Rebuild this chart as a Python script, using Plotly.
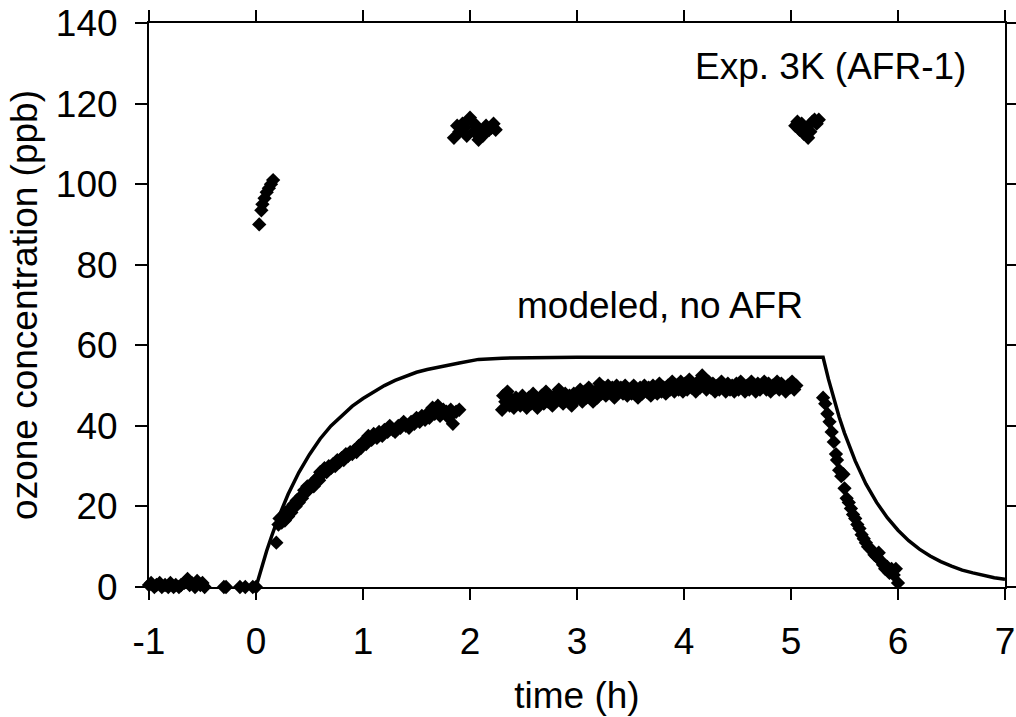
import plotly.graph_objects as go

# ---------------- data ----------------
# measured ozone (h, ppb)
t_base = [-1.0, -0.98, -0.95, -0.93, -0.9, -0.88, -0.85, -0.82, -0.8, -0.77, -0.75, -0.72,
          -0.7, -0.67, -0.64, -0.62, -0.6, -0.57, -0.55, -0.52, -0.5, -0.48,
          -0.3, -0.28, -0.15, -0.1, -0.03, 0.0]
v_base = [0.5, 1, 0, 0.5, 1, 0, 0.5, 0, 1, 0, 0.5, 0,
          0.5, 1, 2, 0.5, 1, 0, 1.5, 0.5, 1, 0,
          0, 0, 0, 0, 0, 0]

t_inlet1 = [0.03, 0.05, 0.06, 0.08, 0.1, 0.12, 0.14, 0.16]
v_inlet1 = [90, 93.5, 95, 96.5, 98, 99, 100, 101]

t_rise = [0.19, 0.21, 0.22, 0.24, 0.25, 0.27, 0.28, 0.3, 0.32, 0.33, 0.35, 0.37, 0.38, 0.4,
          0.42, 0.43, 0.45, 0.47, 0.48, 0.5, 0.52, 0.54, 0.55, 0.57, 0.59, 0.6, 0.62, 0.64,
          0.66, 0.68, 0.7, 0.72, 0.74, 0.76, 0.78, 0.8, 0.82, 0.84, 0.86, 0.88, 0.9, 0.92,
          0.94, 0.96, 0.98, 1.0, 1.03, 1.05, 1.08, 1.1, 1.13, 1.15, 1.18, 1.2, 1.23, 1.25,
          1.28, 1.3, 1.33, 1.35, 1.38, 1.4, 1.43, 1.45, 1.48, 1.5, 1.53, 1.55, 1.58, 1.6,
          1.62, 1.65, 1.67, 1.7, 1.72, 1.75, 1.78, 1.8, 1.82, 1.84, 1.87, 1.9]
v_rise = [11, 15.5, 17, 16, 17.5, 16.5, 18.5, 17.5, 19.5, 18.5, 20.5, 20, 21.5, 21,
          22.5, 22, 24, 23.5, 25, 24.5, 25.5, 25, 26.5, 27, 26.5, 28.5, 28, 29.5,
          28.5, 30, 29.5, 30.5, 30, 31.5, 31, 32, 31.5, 33, 32.5, 33.5, 33, 34,
          33.5, 35, 34.5, 36, 35.5, 37.5, 36.5, 38, 37, 38.5, 37.5, 39, 38.5, 40,
          39, 38.5, 40, 39.5, 41, 40, 39.5, 41, 40.5, 42, 41, 42.5, 41.5, 43,
          42, 44.5, 43, 45, 42.5, 44, 43.5, 42, 44, 40.5, 43.5, 44]

t_inlet2 = [1.85, 1.88, 1.9, 1.93, 1.95, 1.97, 2.0, 2.02, 2.04, 2.06, 2.08, 2.1, 2.12,
            2.15, 2.18, 2.2, 2.22, 2.24]
v_inlet2 = [111.5, 114.5, 113, 115, 114, 112, 116.5, 115.5, 113, 114.5, 111, 113, 112,
            114.5, 113.5, 114, 115, 113.5]

t_plateau = [2.3, 2.31, 2.33, 2.35, 2.37, 2.39, 2.41, 2.43, 2.45, 2.47, 2.49, 2.51, 2.53,
             2.55, 2.57, 2.59, 2.61, 2.63, 2.65, 2.67, 2.69, 2.71, 2.73, 2.75, 2.77, 2.79,
             2.81, 2.83, 2.85, 2.87, 2.89, 2.91, 2.93, 2.95, 2.97, 2.99, 3.01, 3.03, 3.05,
             3.07, 3.09, 3.11, 3.13, 3.15, 3.17, 3.19, 3.21, 3.23, 3.25, 3.27, 3.29, 3.31,
             3.33, 3.35, 3.37, 3.39, 3.41, 3.43, 3.45, 3.47, 3.49, 3.51, 3.53, 3.55, 3.57,
             3.59, 3.61, 3.63, 3.65, 3.67, 3.69, 3.71, 3.73, 3.75, 3.77, 3.79, 3.81, 3.83,
             3.85, 3.87, 3.89, 3.91, 3.93, 3.95, 3.97, 3.99, 4.01, 4.03, 4.05, 4.07, 4.09,
             4.11, 4.13, 4.15, 4.17, 4.19, 4.21, 4.23, 4.25, 4.27, 4.29, 4.31, 4.33, 4.35,
             4.37, 4.39, 4.41, 4.43, 4.45, 4.47, 4.49, 4.51, 4.53, 4.55, 4.57, 4.59, 4.61,
             4.63, 4.65, 4.67, 4.69, 4.71, 4.73, 4.75, 4.77, 4.79, 4.81, 4.83, 4.85, 4.87,
             4.89, 4.91, 4.93, 4.95, 4.97, 4.99, 5.01, 5.03, 5.05]
v_plateau = [44, 47.5, 46, 48.5, 45, 46.5, 44.5, 47, 46, 45, 47.5, 46, 44.5,
             47, 45.5, 48, 46.5, 44.5, 46, 47.5, 45.5, 48.5, 46, 47, 45, 47.5,
             46.5, 49, 47, 45.5, 48, 46.5, 47.5, 45, 48, 46.5, 47.5, 49, 46,
             48.5, 47, 49.5, 47.5, 46, 48.5, 47, 50.5, 48, 49.5, 47.5, 50, 48.5,
             49.5, 47, 50, 48.5, 49.5, 48, 50, 47.5, 49, 48, 50, 48.5, 47,
             49.5, 48, 50, 48.5, 49.5, 47.5, 50, 49, 48, 50.5, 48.5, 49.5, 48,
             50, 49, 51, 48.5, 50, 49, 51, 48.5, 50.5, 49, 51.5, 49.5, 50,
             48.5, 51, 49.5, 52.5, 50, 49, 51, 49.5, 50.5, 48.5, 50, 49, 51,
             49.5, 48.5, 50.5, 49, 50, 48.5, 50.5, 49, 51, 49.5, 48.5, 50, 49,
             51, 49.5, 48.5, 50.5, 49, 50, 51, 49, 50.5, 48.5, 50, 49.5, 51,
             49, 50.5, 49.5, 48.5, 50, 49.5, 51, 49, 50]

t_inlet3 = [5.04, 5.06, 5.08, 5.1, 5.12, 5.14, 5.16, 5.18, 5.2, 5.22, 5.24, 5.26]
v_inlet3 = [114.5, 115.5, 113.5, 115, 112.5, 114, 111.5, 113, 115.5, 116, 115, 116]

t_decay = [5.3, 5.32, 5.34, 5.36, 5.38, 5.4, 5.42, 5.43, 5.45, 5.47, 5.49, 5.5, 5.52,
           5.54, 5.56, 5.58, 5.6, 5.62, 5.64, 5.66, 5.68, 5.7, 5.72, 5.74, 5.76, 5.78,
           5.8, 5.82, 5.84, 5.86, 5.88, 5.9, 5.92, 5.94, 5.96, 5.98, 6.0]
v_decay = [47, 45.5, 43, 41, 38.5, 36, 33, 31.5, 29, 27.5, 28, 24.5, 22,
           21, 19.5, 18, 17, 15.5, 14.5, 13, 12, 11, 10, 9.5, 9, 8,
           7.5, 8.5, 6.5, 5.5, 4.5, 5, 3.5, 4.5, 3, 4.5, 1]

# modeled curve, no AFR (h, ppb)
t_model = [0.0, 0.05, 0.1, 0.15, 0.2, 0.3, 0.4, 0.5, 0.6, 0.7, 0.8, 0.9, 1.0, 1.1, 1.2,
           1.3, 1.4, 1.5, 1.6, 1.7, 1.8, 1.9, 2.08, 2.3, 3.0, 4.0, 5.3,
           5.35, 5.4, 5.45, 5.5, 5.55, 5.6, 5.7, 5.8, 5.9, 6.0, 6.1, 6.2, 6.3, 6.4,
           6.5, 6.6, 6.7, 6.8, 6.9, 7.0]
v_model = [0.0, 4.7, 9.0, 12.9, 16.6, 23.0, 28.4, 32.9, 36.8, 40.0, 42.6, 44.9, 46.8, 48.5,
           50.0, 51.3, 52.4, 53.3, 54.0, 54.6, 55.1, 55.6, 56.5, 56.8, 57.0, 57.0, 57.0,
           51.6, 46.7, 42.2, 38.2, 34.6, 31.3, 25.6, 21.0, 17.2, 14.1, 11.5, 9.4, 7.7, 6.3,
           5.2, 4.2, 3.5, 2.8, 2.3, 1.9]

x_ticks = [-1, 0, 1, 2, 3, 4, 5, 6, 7]
x_tick_labels = ["-1", "0", "1", "2", "3", "4", "5", "6", "7"]
y_ticks = [0, 20, 40, 60, 80, 100, 120, 140]
y_tick_labels = ["0", "20", "40", "60", "80", "100", "120", "140"]

# ---------------- figure ----------------
t_meas = t_base + t_inlet1 + t_rise + t_inlet2 + t_plateau + t_inlet3 + t_decay
v_meas = v_base + v_inlet1 + v_rise + v_inlet2 + v_plateau + v_inlet3 + v_decay

FONT = "Liberation Sans, Arial, sans-serif"
FS = 37

fig = go.Figure()
fig.add_trace(go.Scatter(
    x=t_model, y=v_model, mode="lines",
    line=dict(color="black", width=3.5),
    cliponaxis=False, showlegend=False))
fig.add_trace(go.Scatter(
    x=t_meas, y=v_meas, mode="markers",
    marker=dict(symbol="diamond", size=11, color="black", line=dict(width=0)),
    cliponaxis=False, showlegend=False))

fig.add_annotation(x=5.37, y=129.2, text="Exp. 3K (AFR-1)", showarrow=False,
                   font=dict(family=FONT, size=FS, color="black"),
                   xanchor="center", yanchor="middle")
fig.add_annotation(x=3.78, y=70, text="modeled, no AFR", showarrow=False,
                   font=dict(family=FONT, size=FS, color="black"),
                   xanchor="center", yanchor="middle")

axis_common = dict(showline=True, linecolor="black", linewidth=2, mirror="ticks",
                   ticks="outside", tickcolor="black", tickwidth=2,
                   showgrid=False, zeroline=False, automargin=False,
                   tickfont=dict(family=FONT, size=FS, color="black"))

fig.update_xaxes(range=[-1, 7], tickvals=x_ticks, ticktext=x_tick_labels, ticklen=11,
                 ticklabelstandoff=10,
                 title=dict(text="time (h)", font=dict(family=FONT, size=FS, color="black"),
                            standoff=21),
                 **axis_common)
fig.update_yaxes(range=[0, 140], tickvals=y_ticks, ticktext=y_tick_labels, ticklen=12,
                 ticklabelstandoff=10,
                 title=dict(text="ozone concentration (ppb)",
                            font=dict(family=FONT, size=FS, color="black"), standoff=7),
                 **axis_common)

fig.update_layout(
    width=1016, height=717,
    margin=dict(l=149, r=11, t=23, b=130),
    paper_bgcolor="white", plot_bgcolor="white",
    font=dict(family=FONT, size=FS, color="black"),
)

fig.write_html("out.html", config={"displayModeBar": False},
               post_script="document.body.style.margin='0';document.body.style.overflow='hidden';")
